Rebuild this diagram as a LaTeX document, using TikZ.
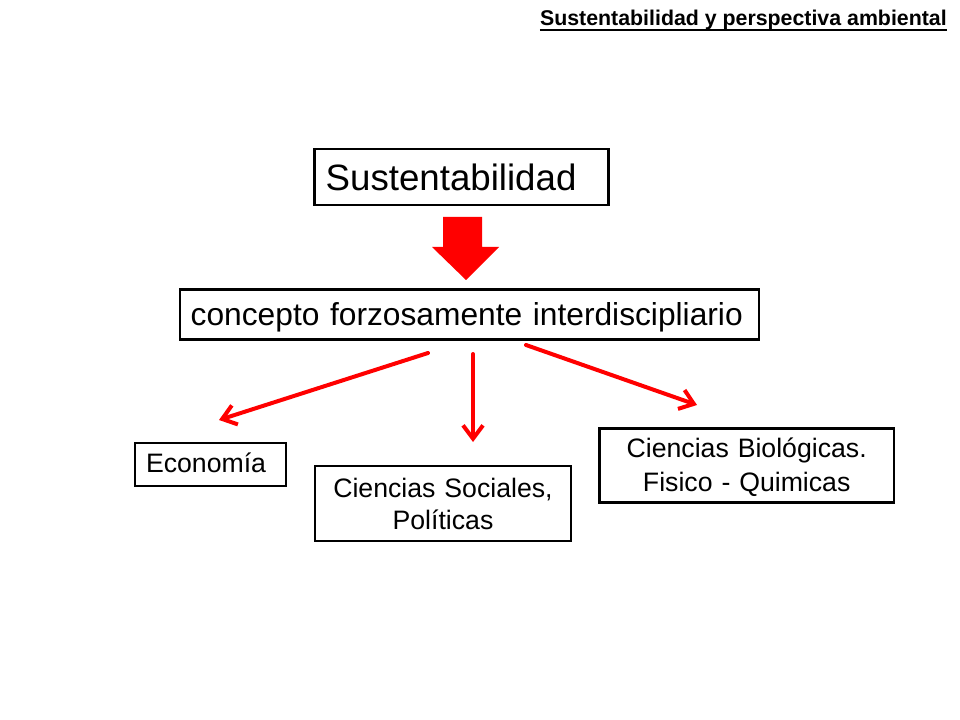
\documentclass[tikz,border=0pt]{standalone}
\usepackage{fontspec}
\setmainfont{Liberation Sans}
\usetikzlibrary{arrows.meta,calc}
\begin{document}
\begin{tikzpicture}[x=0.75pt,y=-0.75pt,
  box/.style={draw=black,line width=1.9pt,inner sep=0pt,rectangle},
  redarrow/.style={draw=red,line width=3pt,line cap=round,-{Straight Barb[length=10pt,width=15pt]}},
  blockarrow/.style={fill=red,draw=none}
]
\fill[white] (0,0) rectangle (960,720);
\useasboundingbox (0,0) rectangle (960,720);
% title
\node[anchor=base east,font=\fontsize{16}{19.2}\selectfont\bfseries,inner sep=0pt] (title) at (947,26) {Sustentabilidad y perspectiva ambiental};
\draw[line width=1.5pt] ($(title.base west)+(0,4)$) -- ($(title.base east)+(0,4)$);
% boxes
\node[box,minimum width=220.5pt,minimum height=42pt,text width=204pt,align=left,
      text height=19.7pt,text depth=0pt,font=\fontsize{27.5}{33}\selectfont] (s) at (461.7,177.2) {Sustentabilidad};
\node[box,minimum width=434.25pt,minimum height=37.5pt,text width=418.2pt,align=left,
      text height=17.05pt,text depth=0pt,font=\fontsize{23.8}{28.6}\selectfont] (c) at (469.5,314.3) {concepto forzosamente interdiscipliario};
\node[box,minimum width=113.25pt,minimum height=32.25pt,text width=96.75pt,align=left,
      text height=14.32pt,text depth=3pt,font=\fontsize{20}{24}\selectfont] (e) at (210.5,464.5) {Economía};
\node[box,minimum width=192pt,minimum height=56.25pt,text width=192pt,align=center,
      text height=14.32pt,text depth=24pt,font=\fontsize{20}{24}\selectfont] (cs) at (443,503.5) {Ciencias Sociales,\\Políticas};
\node[box,minimum width=221pt,minimum height=55.5pt,text width=221pt,align=center,
      text height=14.32pt,text depth=25.5pt,font=\fontsize{20}{25.5}\selectfont] (cb) at (746.7,465.3) {Ciencias Biológicas.\\Fisico - Quimicas};
% block arrow between s and c
\fill[blockarrow] (443,217) -- (482,217) -- (482,247) -- (499,247) -- (466,280) -- (432,247) -- (443,247) -- cycle;
% connector end points
\coordinate (le0) at (428,353);
\coordinate (le1) at (219,420);
\coordinate (ls0) at (473,354);
\coordinate (ls1) at (473,442);
\coordinate (lb0) at (526,345);
\coordinate (lb1) at (697,405);
\draw[redarrow] (le0) -- (le1);
\draw[redarrow] (ls0) -- (ls1);
\draw[redarrow] (lb0) -- (lb1);
\end{tikzpicture}
\end{document}
